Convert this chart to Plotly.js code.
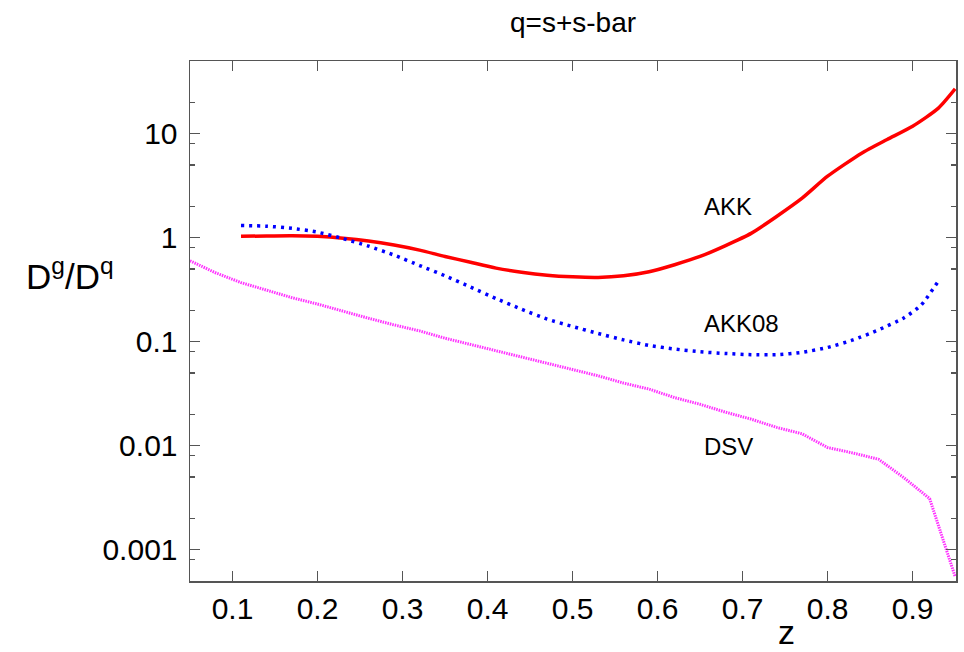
<!DOCTYPE html>
<html>
<head>
<meta charset="utf-8">
<script src="https://cdn.plot.ly/plotly-3.0.1.min.js"></script>
<style>html,body{margin:0;padding:0;background:#fff;}#chart{width:964px;height:652px;}</style>
</head>
<body>
<div id="chart"></div>
<script>
// AKK (red solid)
const akkZ = [0.11,0.14,0.17,0.2,0.23,0.26,0.29,0.32,0.35,0.38,0.41,0.44,0.47,0.5,0.53,0.56,0.59,0.62,0.65,0.68,0.71,0.74,0.77,0.8,0.84,0.87,0.9,0.93,0.95];
const akkR = [1.03,1.04,1.045,1.03,0.99,0.93,0.85,0.76,0.66,0.58,0.51,0.465,0.435,0.42,0.415,0.43,0.47,0.55,0.66,0.84,1.1,1.6,2.4,3.9,6.5,8.8,11.8,17.5,27];
// AKK08 (blue dotted)
const akk08Z = [0.11,0.14,0.17,0.2,0.23,0.26,0.29,0.32,0.35,0.38,0.41,0.44,0.47,0.5,0.53,0.56,0.59,0.62,0.65,0.68,0.71,0.74,0.77,0.8,0.83,0.86,0.89,0.91,0.93];
const akk08R = [1.31,1.29,1.23,1.13,0.98,0.83,0.68,0.54,0.43,0.335,0.26,0.205,0.165,0.14,0.12,0.104,0.092,0.085,0.08,0.077,0.075,0.075,0.079,0.088,0.104,0.13,0.17,0.225,0.38];
// DSV (magenta dotted)
const dsvZ = [0.05,0.08,0.11,0.14,0.17,0.2,0.23,0.26,0.29,0.32,0.35,0.38,0.41,0.44,0.47,0.5,0.53,0.56,0.59,0.62,0.65,0.68,0.71,0.74,0.77,0.8,0.83,0.86,0.89,0.92,0.95];
const dsvR = [0.60,0.46,0.37,0.315,0.265,0.23,0.195,0.168,0.145,0.127,0.108,0.094,0.081,0.071,0.062,0.054,0.047,0.040,0.035,0.029,0.025,0.021,0.018,0.015,0.013,0.0096,0.0085,0.0074,0.0049,0.0031,0.00055];

const xTicks = [0.1,0.2,0.3,0.4,0.5,0.6,0.7,0.8,0.9];
const xTickText = ["0.1","0.2","0.3","0.4","0.5","0.6","0.7","0.8","0.9"];
const yTicks = [0.001,0.01,0.1,1,10];
const yTickText = ["0.001","0.01","0.1","1","10"];
const yMinor = [0.0008,0.002,0.005,0.008,0.02,0.05,0.08,0.2,0.5,0.8,2,5,8,20];

const curveLabels = ["AKK","AKK08","DSV"];
const labelZ = [0.652,0.652,0.652];
const labelR = [2.0,0.15,0.0098];

const FONT = "Liberation Sans, Arial, Helvetica, sans-serif";

const traces = [
  {x: akkZ, y: akkR, mode: "lines", line: {color: "#ff0000", width: 3.5, shape: "spline", smoothing: 0.6}, name: "AKK"},
  {x: akk08Z, y: akk08R, mode: "lines", line: {color: "#0000ff", width: 3.5, dash: "3px,5px", shape: "spline", smoothing: 0.6}, name: "AKK08"},
  {x: dsvZ, y: dsvR, mode: "lines", line: {color: "#ff33ff", width: 3, dash: "1.5px,1px"}, name: "DSV"}
];

const annotations = curveLabels.map((t, i) => ({
  x: labelZ[i], y: Math.log10(labelR[i]), xref: "x", yref: "y", text: t,
  showarrow: false, xanchor: "left", yanchor: "middle",
  font: {family: FONT, size: 24, color: "#000"}
}));
annotations.push({
  x: -0.157, y: 0.59, xref: "paper", yref: "paper", text: "D<sup>g</sup>/D<sup>q</sup>",
  showarrow: false, xanchor: "center", yanchor: "middle",
  font: {family: FONT, size: 35, color: "#000"}
});
annotations.push({
  x: 0.779, y: -0.098, xref: "paper", yref: "paper", text: "z",
  showarrow: false, xanchor: "center", yanchor: "middle",
  font: {family: FONT, size: 34, color: "#000"}
});

const layout = {
  width: 964, height: 652,
  margin: {l: 190, r: 8, t: 61, b: 71},
  paper_bgcolor: "#fff", plot_bgcolor: "#fff",
  showlegend: false,
  font: {family: FONT, color: "#000"},
  title: {text: "q=s+s-bar", x: 0.5, xref: "paper", y: 0.966, yref: "container", xanchor: "center", yanchor: "middle",
          font: {family: FONT, size: 28, color: "#000"}},
  xaxis: {
    range: [0.05, 0.951], showgrid: false, zeroline: false,
    showline: true, linecolor: "#555", linewidth: 1.5, mirror: "ticks",
    ticks: "inside", ticklen: 10, tickwidth: 1.5, tickcolor: "#555",
    tickmode: "array", tickvals: xTicks, ticktext: xTickText,
    tickfont: {family: FONT, size: 30, color: "#000"}
  },
  yaxis: {
    type: "log", range: [Math.log10(0.0005), Math.log10(50)], showgrid: false, zeroline: false,
    showline: true, linecolor: "#555", linewidth: 1.5, mirror: "ticks",
    ticks: "inside", ticklen: 10, tickwidth: 1.5, tickcolor: "#555",
    tickmode: "array", tickvals: yTicks, ticktext: yTickText,
    tickfont: {family: FONT, size: 30, color: "#000"},
    ticklabelstandoff: 5,
    minor: {tickmode: "array", tickvals: yMinor, ticks: "inside", ticklen: 5, tickwidth: 1.2, tickcolor: "#555", showgrid: false}
  },
  annotations: annotations
};

Plotly.newPlot("chart", traces, layout, {displayModeBar: false, staticPlot: true});
</script>
</body>
</html>
